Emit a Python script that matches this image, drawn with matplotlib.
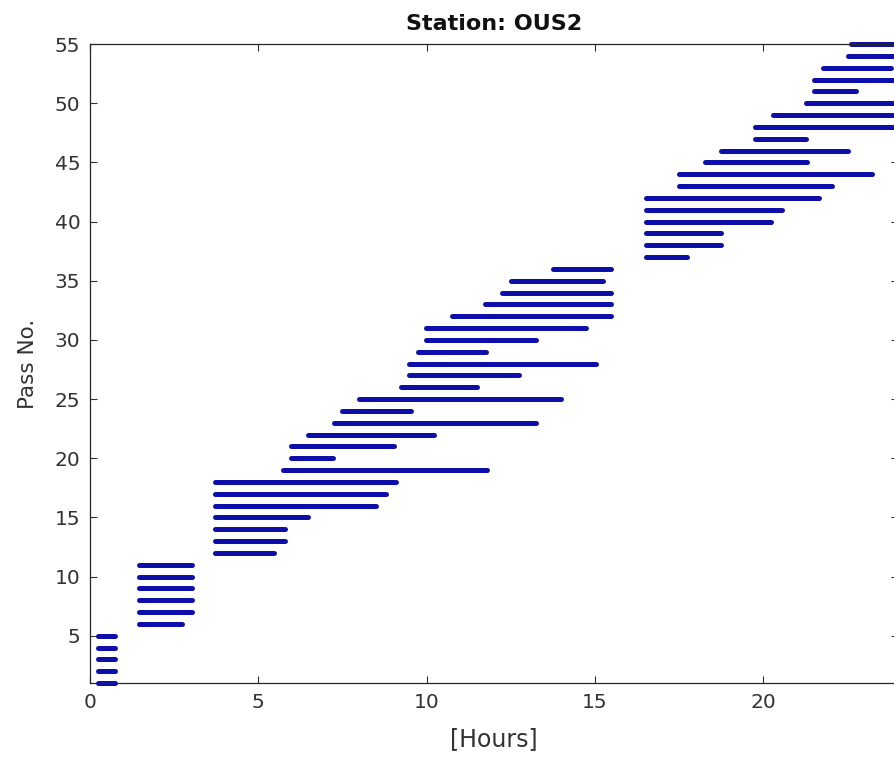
import matplotlib.pyplot as plt

# visibility windows per satellite pass (hours of day)
pass_no = list(range(1, 56))
start_hr = [0.23, 0.23, 0.23, 0.23, 0.23,
            1.46, 1.46, 1.46, 1.46, 1.46, 1.46,
            3.72, 3.72, 3.72, 3.72, 3.72, 3.72, 3.72,
            5.73, 5.98, 5.98, 6.47, 7.26, 7.48, 7.98,
            9.25, 9.48, 9.48, 9.74, 9.98, 9.98, 10.75, 11.74, 12.24, 12.50, 13.74,
            16.51, 16.51, 16.51, 16.51, 16.51, 16.51,
            17.50, 17.50, 18.26, 18.75, 19.76, 19.76, 20.28, 21.27,
            21.51, 21.51, 21.77, 22.50, 22.60]
end_hr = [0.75, 0.75, 0.75, 0.75, 0.75,
          2.74, 3.04, 3.04, 3.04, 3.04, 3.04,
          5.46, 5.78, 5.78, 6.47, 8.49, 8.78, 9.08,
          11.78, 7.22, 9.03, 10.22, 13.25, 9.52, 13.99,
          11.49, 12.73, 15.04, 11.77, 13.24, 14.74, 15.48, 15.48, 15.48, 15.24, 15.48,
          17.74, 18.73, 18.73, 20.23, 20.55, 21.64,
          22.05, 23.23, 21.30, 22.51, 21.27, 24.0, 24.0, 24.0,
          22.74, 24.0, 23.78, 24.0, 24.0]

station = "OUS2"

fig = plt.figure(figsize=(8.95, 7.64), dpi=100)
ax = fig.add_axes([0.1006, 0.106, 0.9028, 0.8364])

for p, s, e in zip(pass_no, start_hr, end_hr):
    ax.plot([s, e], [p, p], color='#0e0eaa', linewidth=3.6,
            solid_capstyle='round', clip_on=False)

ax.set_xlim(0, 24)
ax.set_ylim(1, 55)
ax.set_xticks([0, 5, 10, 15, 20])
ax.set_yticks(range(5, 56, 5))

axis_col = '#262626'
for sp in ax.spines.values():
    sp.set_color(axis_col)
    sp.set_linewidth(0.9)
ax.tick_params(direction='in', length=5, width=0.8, colors='#333333',
               labelsize=14.5, top=True, right=True, pad=7)

ax.set_xlabel('[Hours]', fontsize=17, color='#333333', labelpad=11)
ax.set_ylabel('Pass No.', fontsize=15.5, color='#333333', labelpad=12)
ax.set_title('Station: ' + station, fontsize=16, fontweight='bold', color='#111111', pad=10)

fig.savefig('out.png', dpi=100)
